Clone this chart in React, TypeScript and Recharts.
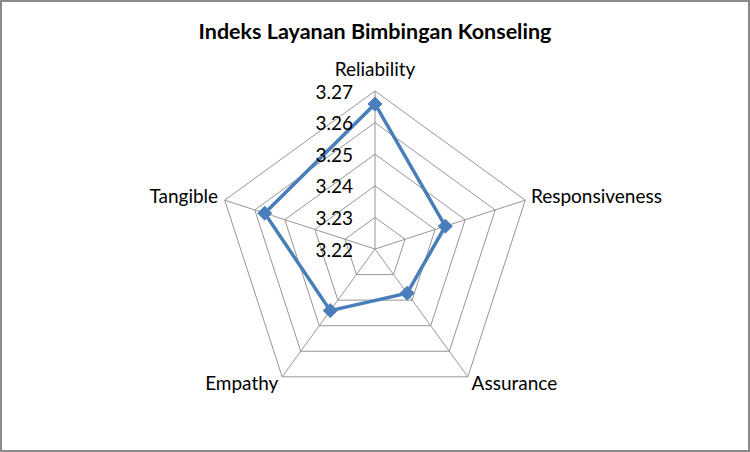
import { RadarChart, Radar, PolarGrid, PolarAngleAxis, PolarRadiusAxis } from "recharts";

const categories = ["Reliability", "Responsiveness", "Assurance", "Empathy", "Tangible"];
const indexValues = [3.2659, 3.2434, 3.2373, 3.2441, 3.2567];
const radiusTicks = [3.22, 3.23, 3.24, 3.25, 3.26, 3.27];

// radar radius starts at 0 in recharts, so plot the distance above the centre value
const BASE = radiusTicks[0];
const TOP = radiusTicks[radiusTicks.length - 1];
const data = categories.map((c, i) => ({ aspect: c, value: indexValues[i] - BASE }));

const FONT = "Lato, 'Open Sans', sans-serif";

const AngleTick = (props: any) => {
  const { x, y, payload, index } = props;
  const anchors = ["middle", "start", "start", "end", "end"];
  const dx = [0, -2, -1, 1, 1][index] ?? 0;
  const dy = [-15, -2, -1, -1, -2][index] ?? 0;
  return (
    <text
      x={x + dx}
      y={y + dy}
      textAnchor={anchors[index]}
      dominantBaseline="central"
      fontFamily={FONT}
      fontSize={19}
      fill="#000"
    >
      {payload.value}
    </text>
  );
};

const RadiusTick = (props: any) => {
  const { x, y, payload } = props;
  return (
    <text x={x - 22} y={y} textAnchor="end" dominantBaseline="central" fontFamily={FONT} fontSize={19} fill="#000">
      {(Number(payload.value) + BASE).toFixed(2)}
    </text>
  );
};

const Diamond = (props: any) => {
  const { cx, cy, index } = props;
  const s = 7;
  return (
    <path
      key={`d-${index}`}
      d={`M${cx},${cy - s} L${cx + s},${cy} L${cx},${cy + s} L${cx - s},${cy} Z`}
      fill="#4a7ebb"
      stroke="#4a7ebb"
      strokeWidth={1}
    />
  );
};

export default function App() {
  return (
    <div
      style={{
        position: "absolute",
        left: 0,
        top: 0,
        width: 750,
        height: 452,
        boxSizing: "border-box",
        border: "2px solid #8a8a8a",
        background: "#fff",
      }}
    >
      <div
        style={{
          position: "absolute",
          top: 16,
          width: "100%",
          textAlign: "center",
          fontFamily: FONT,
          fontWeight: 700,
          fontSize: 21.5,
          color: "#000",
        }}
      >
        Indeks Layanan Bimbingan Konseling
      </div>
      <div style={{ position: "absolute", left: -2, top: -2 }}>
        <RadarChart width={750} height={452} data={data} cx={375} cy={249} outerRadius={158} startAngle={90} endAngle={-270}>
          <PolarGrid gridType="polygon" stroke="#969696" strokeWidth={1} />
          <PolarAngleAxis dataKey="aspect" tick={AngleTick} tickLine={false} axisLine={false} />
          <PolarRadiusAxis
            angle={90}
            type="number"
            domain={[0, +(TOP - BASE).toFixed(2)]}
            ticks={radiusTicks.map((t) => +(t - BASE).toFixed(2)) as any}
            tickCount={6}
            axisLine={false}
            tickLine={false}
            tick={RadiusTick}
          />
          <Radar
            dataKey="value"
            stroke="#4a7ebb"
            strokeWidth={3.5}
            fill="none"
            fillOpacity={0}
            dot={Diamond}
            isAnimationActive={false}
          />
        </RadarChart>
      </div>
    </div>
  );
}
